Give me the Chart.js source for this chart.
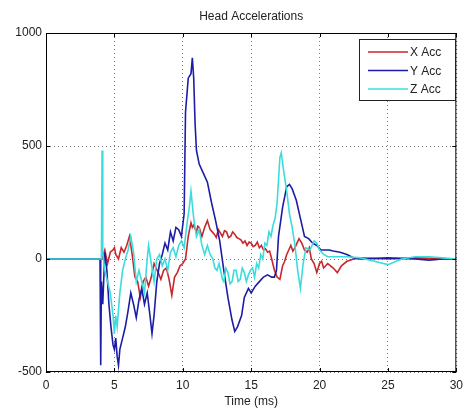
<!DOCTYPE html>
<html>
<head>
<meta charset="utf-8">
<script src="https://cdn.jsdelivr.net/npm/chart.js@4"></script>
<style>
  html, body { margin: 0; padding: 0; background: #fff; }
  #wrap { width: 469px; height: 413px; position: relative; }
</style>
</head>
<body>
<div id="wrap"><canvas id="headAcc" width="469" height="413"></canvas></div>
<script>
// x ticks / y ticks
const xTicks = [0, 5, 10, 15, 20, 25, 30];
const yTicks = [-500, 0, 500, 1000];

// X Acc
const xAccTime = [0, 4.05, 4.1, 4.3, 4.5, 4.7, 4.9, 5.0, 5.1, 5.3, 5.5, 5.7, 5.9, 6.0, 6.1, 6.3, 6.5, 6.7, 6.9, 7.1, 7.3, 7.5, 7.7, 7.9, 8.2, 8.4, 8.6, 8.8, 9.0, 9.2, 9.4, 9.6, 9.8, 10.0, 10.2, 10.4, 10.6, 10.7, 10.8, 11.0, 11.1, 11.2, 11.4, 11.6, 11.8, 12.0, 12.15, 12.3, 12.45, 12.6, 12.75, 12.9, 13.05, 13.2, 13.35, 13.5, 13.65, 13.8, 13.95, 14.1, 14.25, 14.4, 14.55, 14.7, 14.85, 15.0, 15.15, 15.3, 15.45, 15.6, 15.75, 15.9, 16.05, 16.2, 16.35, 16.5, 16.7, 16.9, 17.1, 17.3, 17.45, 17.6, 17.75, 17.9, 18.05, 18.2, 18.35, 18.5, 18.7, 18.9, 19.1, 19.25, 19.4, 19.6, 19.8, 20.0, 20.15, 20.3, 20.6, 20.8, 21.0, 21.3, 21.6, 22.0, 22.5, 23.0, 25.0, 27.0, 30.0];
const xAccVals = [0, 0, 0, 40, -20, 30, 40, 50, 20, 0, 50, 30, 60, 80, 100, 20, -80, -100, -170, -100, -80, -120, -80, -20, -60, -90, -50, -40, -90, -160, -80, -60, -30, -20, 0, 100, 160, 140, 150, 120, 145, 140, 100, 140, 170, 130, 120, 110, 95, 130, 115, 100, 125, 120, 95, 100, 120, 110, 95, 90, 85, 70, 80, 60, 75, 70, 55, 60, 75, 50, 60, 40, 45, 30, 35, 0, -50, -80, -90, -30, -10, 20, 40, 60, 35, 50, 70, 90, 70, 40, 30, 50, 0, -20, -60, -20, -10, -40, -20, -30, -40, -60, -30, -10, 0, 5, 0, 5, 0];

// Y Acc
const yAccTime = [0, 3.95, 4.0, 4.05, 4.15, 4.3, 4.45, 4.6, 4.75, 4.9, 5.0, 5.1, 5.2, 5.3, 5.4, 5.6, 5.8, 6.0, 6.2, 6.4, 6.6, 6.8, 7.0, 7.2, 7.4, 7.6, 7.75, 7.9, 8.1, 8.3, 8.5, 8.7, 8.9, 9.1, 9.3, 9.5, 9.7, 9.9, 10.1, 10.2, 10.4, 10.6, 10.7, 10.8, 10.9, 11.0, 11.2, 11.5, 11.8, 12.1, 12.4, 12.7, 13.0, 13.3, 13.6, 13.8, 14.0, 14.3, 14.5, 14.8, 15.0, 15.3, 15.6, 15.9, 16.2, 16.5, 16.7, 16.85, 17.0, 17.3, 17.6, 17.8, 18.0, 18.3, 18.6, 18.9, 19.2, 19.5, 19.8, 20.1, 20.4, 20.7, 21.0, 21.5, 22.0, 22.5, 23.0, 25.0, 27.0, 28.0, 29.0, 30.0];
const yAccVals = [0, 0, -470, -100, -200, 30, -50, -200, -300, -380, -400, -350, -430, -470, -400, -350, -300, -230, -150, -200, -260, -180, -130, -200, -150, -250, -330, -250, -100, -20, 20, 70, 40, 120, 80, 140, 130, 100, 200, 650, 800, 820, 890, 800, 600, 480, 420, 380, 340, 250, 170, 80, -50, -170, -270, -320, -300, -250, -170, -130, -150, -120, -100, -80, -70, -80, -80, -50, 100, 230, 320, 330, 310, 260, 180, 100, 90, 70, 60, 40, 40, 40, 35, 30, 20, 5, 0, 5, 0, -5, 0, 0];

// Z Acc
const zAccTime = [0, 4.05, 4.1, 4.15, 4.3, 4.5, 4.7, 4.9, 5.0, 5.1, 5.2, 5.4, 5.6, 5.8, 6.0, 6.2, 6.4, 6.6, 6.8, 7.0, 7.2, 7.4, 7.5, 7.7, 7.9, 8.1, 8.3, 8.5, 8.7, 8.9, 9.1, 9.3, 9.5, 9.7, 9.9, 10.1, 10.3, 10.5, 10.6, 10.8, 11.0, 11.2, 11.4, 11.6, 11.8, 12.0, 12.2, 12.35, 12.5, 12.65, 12.8, 12.9, 13.0, 13.15, 13.3, 13.45, 13.6, 13.75, 13.9, 14.05, 14.2, 14.35, 14.5, 14.65, 14.8, 14.95, 15.1, 15.25, 15.4, 15.55, 15.7, 15.85, 16.0, 16.15, 16.3, 16.45, 16.6, 16.75, 16.9, 17.1, 17.2, 17.4, 17.6, 17.8, 18.0, 18.2, 18.4, 18.6, 18.8, 19.0, 19.3, 19.6, 19.8, 20.0, 20.3, 20.6, 21.0, 22.0, 23.0, 24.0, 25.0, 26.0, 27.0, 28.0, 29.0, 30.0];
const zAccVals = [0, 0, 480, 30, -50, -100, -150, -250, -330, -250, -300, -150, -50, 0, 40, 100, 30, -100, -50, -100, -150, 0, 60, -20, -100, 0, 20, -30, 0, -50, 30, 50, 10, 60, 80, 50, 150, 240, 300, 180, 100, 130, 60, 20, 60, 20, 0, -40, -50, -20, -60, -90, -100, -40, -60, -110, -100, -50, -50, -100, -90, -40, -60, -100, -70, -50, -40, -80, -20, -40, 20, 0, 70, 60, 120, 100, 150, 180, 250, 450, 470, 380, 300, 200, 140, 60, -50, -130, -20, 50, 40, 80, 70, 40, 20, 10, 10, 10, 5, -10, -25, 0, 10, 10, 5, 0];

const seriesNames = ['X Acc', 'Y Acc', 'Z Acc'];
const seriesColors = ['#c8282c', '#1c1ca6', '#3cdcdc'];

function pairs(ts, vs) {
  return ts.map((t, i) => ({ x: t, y: vs[i] }));
}

// frame, inward ticks, title and legend like a matlab figure
const matlabFrame = {
  id: 'matlabFrame',
  afterDatasetsDraw(chart) {
    const ctx = chart.ctx;
    const a = chart.chartArea;
    const xs = chart.scales.x, ys = chart.scales.y;
    ctx.save();
    ctx.strokeStyle = '#000';
    ctx.lineWidth = 1;
    ctx.strokeRect(a.left + 0.5, a.top + 0.5, a.right - a.left - 1, a.bottom - a.top - 1);
    ctx.beginPath();
    xTicks.forEach(t => {
      const px = Math.round(xs.getPixelForValue(t)) + 0.5;
      ctx.moveTo(px, a.bottom); ctx.lineTo(px, a.bottom - 4);
      ctx.moveTo(px, a.top); ctx.lineTo(px, a.top + 4);
    });
    yTicks.forEach(v => {
      const py = Math.round(ys.getPixelForValue(v)) + 0.5;
      ctx.moveTo(a.left, py); ctx.lineTo(a.left + 4, py);
      ctx.moveTo(a.right, py); ctx.lineTo(a.right - 4, py);
    });
    ctx.stroke();

    // title
    ctx.fillStyle = '#222';
    ctx.font = '12px "Liberation Sans", Arial, sans-serif';
    ctx.textAlign = 'center';
    ctx.textBaseline = 'middle';
    ctx.fillText('Head Accelerations', (a.left + a.right) / 2, 17);

    // legend
    const lx = 359, ly = 39, lw = 96, lh = 61;
    ctx.fillStyle = '#fff';
    ctx.fillRect(lx, ly, lw, lh);
    ctx.strokeStyle = '#222';
    ctx.lineWidth = 1;
    ctx.strokeRect(lx + 0.5, ly + 0.5, lw, lh);
    ctx.textAlign = 'left';
    seriesNames.forEach((name, i) => {
      const y = 52 + i * 18.5;
      ctx.strokeStyle = seriesColors[i];
      ctx.lineWidth = 1.5;
      ctx.beginPath();
      ctx.moveTo(368, y); ctx.lineTo(408, y);
      ctx.stroke();
      ctx.fillStyle = '#222';
      ctx.fillText(name, 410, y + 1);
    });
    ctx.restore();
  }
};

const ctx = document.getElementById('headAcc').getContext('2d');
const data = {
  datasets: [
    { label: seriesNames[0], data: pairs(xAccTime, xAccVals), borderColor: seriesColors[0], order: 2 },
    { label: seriesNames[1], data: pairs(yAccTime, yAccVals), borderColor: seriesColors[1], order: 1 },
    { label: seriesNames[2], data: pairs(zAccTime, zAccVals), borderColor: seriesColors[2], order: 0 },
  ].map(d => Object.assign(d, { borderWidth: 1.6, pointRadius: 0, tension: 0, fill: false })),
};

const tickFont = { family: '"Liberation Sans", Arial, sans-serif', size: 12 };
const gridOpts = { color: '#777', lineWidth: 1, drawTicks: false };

const headChart = new Chart(ctx, {
  type: 'line',
  data: data,
  options: {
    responsive: false,
    animation: false,
    layout: { padding: { top: 33, right: 9, left: 0, bottom: 0 } },
    plugins: { legend: { display: false }, tooltip: { enabled: false }, title: { display: false } },
    scales: {
      x: {
        type: 'linear',
        min: 0, max: 30,
        afterBuildTicks: s => { s.ticks = xTicks.map(v => ({ value: v })); },
        afterFit: s => { s.height = 41; },
        ticks: { font: tickFont, color: '#222', padding: 6, maxRotation: 0, callback: v => String(v) },
        grid: gridOpts,
        border: { display: false, dash: [1, 3] },
        title: { display: true, text: 'Time (ms)', font: tickFont, color: '#222', padding: { top: 0, bottom: 4 } },
      },
      y: {
        type: 'linear',
        min: -500, max: 1000,
        afterBuildTicks: s => { s.ticks = yTicks.map(v => ({ value: v })); },
        afterFit: s => { s.width = 46; },
        ticks: { font: tickFont, color: '#222', padding: 4, callback: v => String(v) },
        grid: gridOpts,
        border: { display: false, dash: [1, 3] },
      },
    },
  },
  plugins: [matlabFrame],
});
</script>
</body>
</html>
